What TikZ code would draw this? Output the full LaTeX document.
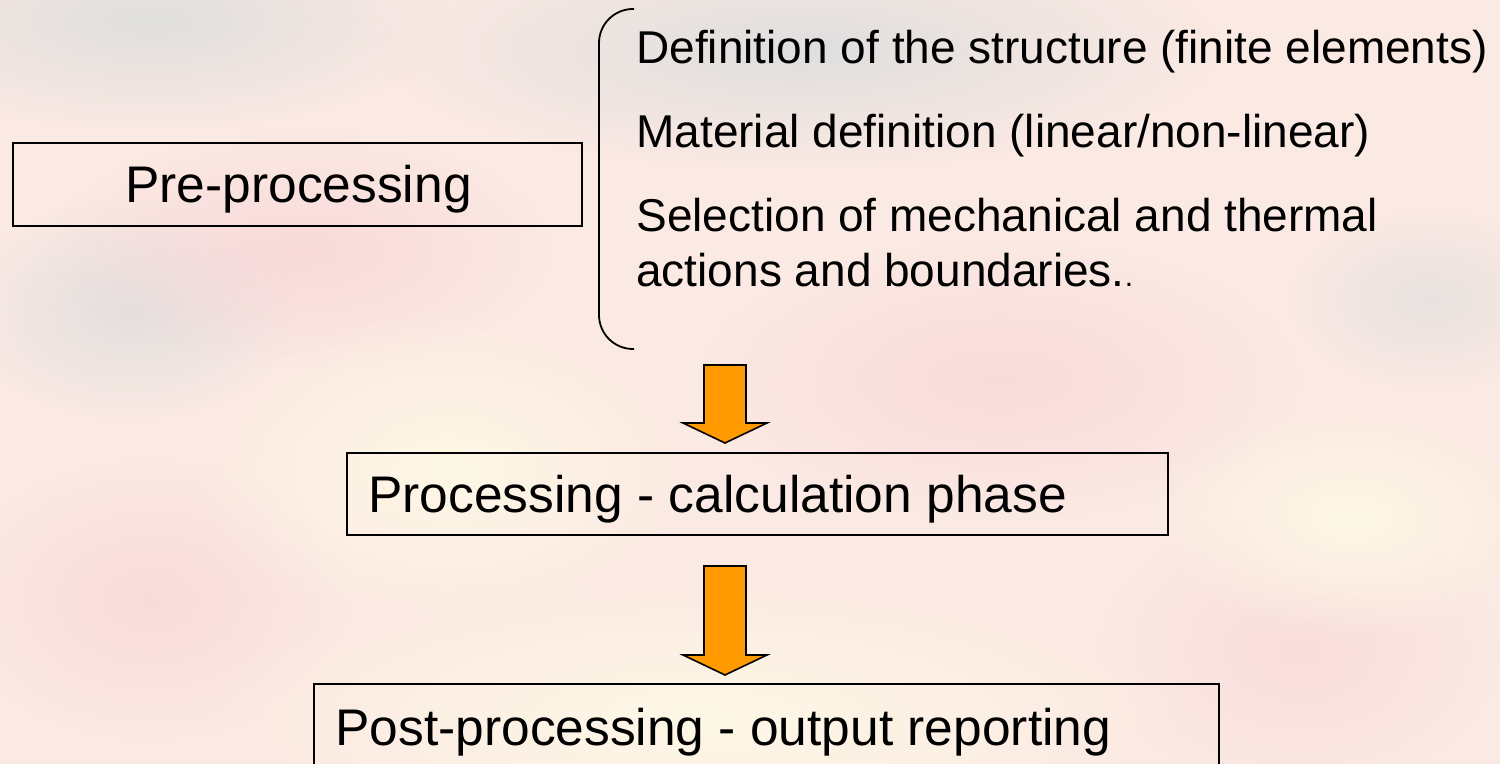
\documentclass[tikz,border=0pt]{standalone}
\usepackage{fontspec}
\setmainfont{Liberation Sans}
\usetikzlibrary{fadings}
\tikzfading[name=softblob, inner color=transparent!0, outer color=transparent!100]
\definecolor{bgbase}{HTML}{FBE9E3}
\definecolor{bggray}{HTML}{DCDEDE}
\definecolor{bgpink}{HTML}{F8D6D8}
\definecolor{bgcream}{HTML}{FEF8E6}
\definecolor{arroworange}{HTML}{FF9A00}
\tikzset{
  stagebox/.style={draw=black, line width=1pt, fill=none},
  stagetext/.style={anchor=base west, inner sep=0pt, font=\fontsize{25.75}{30}\selectfont},
  itemtext/.style={anchor=base west, inner sep=0pt, align=left, font=\fontsize{23}{27.5}\selectfont},
  blockarrow/.style={fill=arroworange, draw=black, line width=0.8pt, line join=miter},
  blob/.style={path fading=softblob, draw=none}
}
\begin{document}
\begin{tikzpicture}[x=0.5pt, y=-0.5pt]
\useasboundingbox (0,0) rectangle (1500,764);
% background (blurred photo impression)
\fill[bgbase] (0,0) rectangle (1500,764);
\fill[bggray, blob, opacity=0.9] (150,20) ellipse (300 and 110);
\fill[bggray, blob, opacity=0.9] (800,50) ellipse (420 and 120);
\fill[bggray, blob, opacity=0.8] (130,310) ellipse (170 and 110);
\fill[bggray, blob, opacity=0.6] (1430,300) ellipse (140 and 90);
\fill[bgpink, blob, opacity=0.8] (300,250) ellipse (250 and 120);
\fill[bgpink, blob, opacity=0.7] (1000,380) ellipse (300 and 140);
\fill[bgpink, blob, opacity=0.7] (150,600) ellipse (200 and 140);
\fill[bgpink, blob, opacity=0.6] (1300,650) ellipse (200 and 140);
\fill[bgcream, blob] (450,470) ellipse (260 and 160);
\fill[bgcream, blob] (700,720) ellipse (500 and 150);
\fill[bgcream, blob] (1350,520) ellipse (200 and 120);

% boxes
\node[stagetext] (pretxt) at (125,203) {Pre-processing};
\draw[stagebox] (13,143) rectangle (582,226);

\node[stagetext] (proctxt) at (368,513) {Processing - calculation phase};
\draw[stagebox] (347,453) rectangle (1168,535);

\node[stagetext] (posttxt) at (335,745) {Post-processing - output reporting};
\draw[stagebox] (314,684) rectangle (1219,790);

% bracket
\coordinate (brtop) at (634,9);
\coordinate (brbot) at (634,349);
\draw[line width=0.9pt, rounded corners=17pt] (brtop) -- (599,9) -- (599,349) -- (brbot);

% items
\node[itemtext] (item1) at (636,64) {Definition of the structure (finite elements)};
\node[itemtext] (item2) at (636,148) {Material definition (linear/non-linear)};
\node[itemtext] (item3) at (636,287) {Selection of mechanical and thermal\\actions and boundaries.{\fontsize{15}{15}\selectfont .}};

% block arrows
\draw[blockarrow] (704,365) -- (746,365) -- (746,423) -- (767,423) -- (725,443) -- (683,423) -- (704,423) -- cycle;
\draw[blockarrow] (704,566) -- (746,566) -- (746,655) -- (767,655) -- (725,675) -- (683,655) -- (704,655) -- cycle;
\end{tikzpicture}
\end{document}
